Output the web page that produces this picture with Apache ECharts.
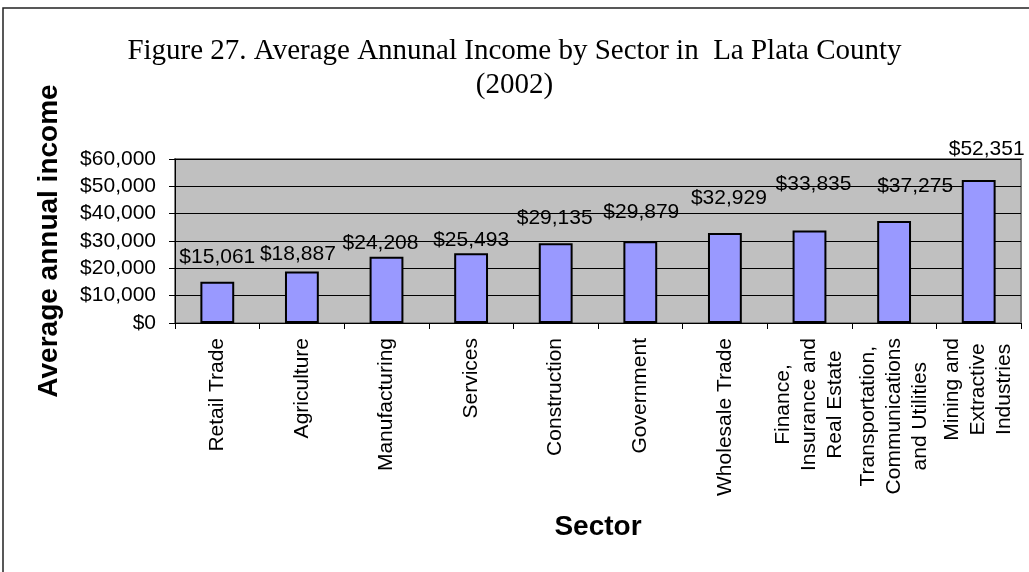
<!DOCTYPE html>
<html>
<head>
<meta charset="utf-8">
<script src="https://cdn.jsdelivr.net/npm/echarts@6/dist/echarts.min.js"></script>
<style>
  html, body { margin: 0; padding: 0; background: #ffffff; }
  #chart { width: 1029px; height: 572px; }
</style>
</head>
<body>
<div id="chart"></div>
<script>
// Sectors in ascending order of average pay
const sectors = [
  'Retail Trade',
  'Agriculture',
  'Manufacturing',
  'Services',
  'Construction',
  'Government',
  'Wholesale Trade',
  'Finance,\nInsurance and\nReal Estate',
  'Transportation,\nCommunications\nand Utilities',
  'Mining and\nExtractive\nIndustries'
];

// Average annual income (USD), 2002
const incomes = [15061, 18887, 24208, 25493, 29135, 29879, 32929, 33835, 37275, 52351];

// Value axis ticks
const yTickValues = [0, 10000, 20000, 30000, 40000, 50000, 60000];

const SANS = '"Liberation Sans", Arial, Helvetica, sans-serif';
const SERIF = '"Liberation Serif", "Times New Roman", serif';

const money = v => '$' + Number(v).toLocaleString('en-US');

// Hand-placed value labels: [dx, dy] nudges from the bar top
const labelNudge = [
  [0, -14], [-4, -7], [-6, -3], [0, -3], [-1, -15],
  [1, -19], [4, -24], [4, -36], [21, -24], [8, -20]
];

const chart = echarts.init(document.getElementById('chart'), null, { renderer: 'canvas' });

chart.setOption({
  backgroundColor: '#ffffff',
  animation: false,
  graphic: [{
    type: 'rect',
    shape: { x: 3, y: 8, width: 1200, height: 800 },
    style: { fill: 'none', stroke: '#222', lineWidth: 1.5 },
    silent: true,
    z: 100
  }],
  title: {
    text: 'Figure 27. Average Annunal Income by Sector in  La Plata County\n(2002)',
    left: 'center',
    top: 29,
    textStyle: {
      fontFamily: SERIF,
      fontSize: 29,
      fontWeight: 'normal',
      color: '#000',
      lineHeight: 34
    }
  },
  grid: {
    left: 175,
    right: 8,
    top: 159,
    bottom: 249,
    show: true,
    backgroundColor: '#c0c0c0',
    borderColor: '#808080',
    borderWidth: 2,
    containLabel: false
  },
  xAxis: {
    type: 'category',
    data: sectors,
    boundaryGap: true,
    name: 'Sector',
    nameLocation: 'middle',
    nameGap: 190,
    nameTextStyle: { fontFamily: SANS, fontSize: 28, fontWeight: 'bold', color: '#000' },
    axisLine: { show: true, lineStyle: { color: '#000', width: 1 } },
    axisTick: { show: true, alignWithLabel: false, length: 6, lineStyle: { color: '#000' } },
    axisLabel: {
      interval: 0,
      rotate: 90,
      margin: 15,
      color: '#000',
      fontFamily: SANS,
      fontSize: 21,
      formatter: v => v.split('\n').map(s => '{c|' + s + '}').join('\n'),
      rich: {
        c: { align: 'center', fontFamily: SANS, fontSize: 21, lineHeight: 26, color: '#000' }
      }
    },
    splitLine: { show: false }
  },
  yAxis: {
    type: 'value',
    min: yTickValues[0],
    max: yTickValues[yTickValues.length - 1],
    interval: yTickValues[1] - yTickValues[0],
    name: 'Average annual income',
    nameLocation: 'middle',
    nameRotate: 90,
    nameGap: 112,
    nameTextStyle: { fontFamily: SANS, fontSize: 28, fontWeight: 'bold', color: '#000' },
    axisLine: { show: true, lineStyle: { color: '#000', width: 1 } },
    axisTick: { show: true, inside: false, length: 6, lineStyle: { color: '#000' } },
    axisLabel: {
      margin: 19,
      color: '#000',
      fontFamily: SANS,
      fontSize: 21,
      formatter: money
    },
    splitLine: { show: true, lineStyle: { color: '#000', width: 1 } }
  },
  series: [{
    type: 'bar',
    data: incomes.map((v, i) => ({
      value: v,
      label: { offset: labelNudge[i] }
    })),
    barCategoryGap: '60%',
    itemStyle: { color: '#9999ff', borderColor: '#000', borderWidth: 2 },
    label: {
      show: true,
      position: 'top',
      distance: 0,
      color: '#000',
      fontFamily: SANS,
      fontSize: 21,
      formatter: p => money(p.value)
    }
  }]
});
</script>
</body>
</html>
